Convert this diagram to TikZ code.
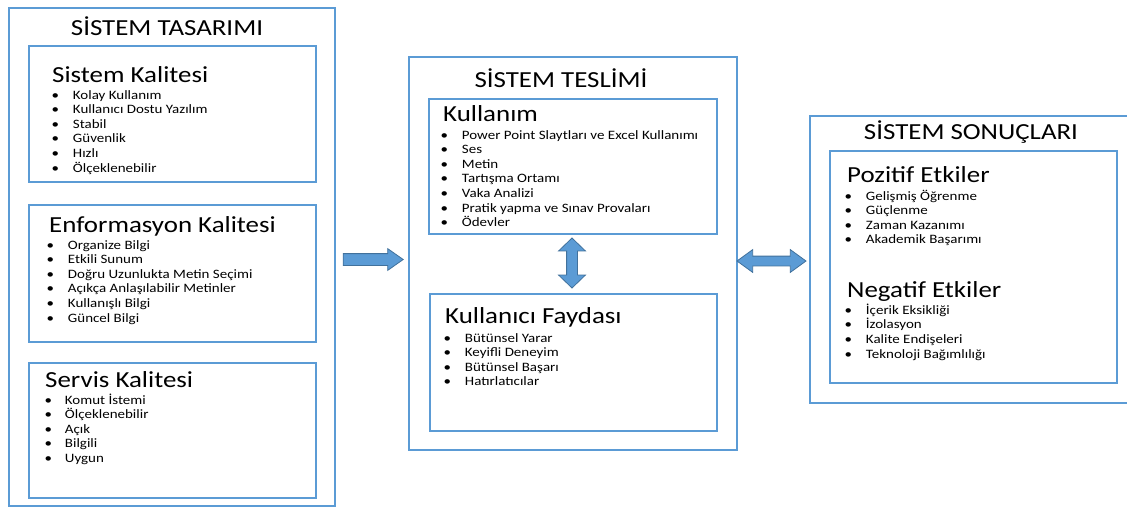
\documentclass[tikz,border=0pt]{standalone}
\usepackage{fontspec}
\setmainfont{Carlito}[FakeStretch=1.17]
\usepackage{xcolor}
\usetikzlibrary{shapes.arrows}
\definecolor{boxblue}{HTML}{5B9BD5}
\definecolor{arrowline}{HTML}{41719C}

\begin{document}
\begin{tikzpicture}[
  x=1pt, y=-1pt,
  outerbox/.style={rectangle, draw=boxblue, line width=1.6pt, anchor=north west, inner sep=0pt},
  innerbox/.style={rectangle, draw=boxblue, line width=1.6pt, anchor=north west, inner sep=0pt},
  titletext/.style={anchor=base, inner sep=0pt, font=\fontsize{23}{27}\selectfont},
  headtext/.style={anchor=base west, inner sep=0pt, font=\fontsize{23}{27}\selectfont},
  itemlist/.style={anchor=base west, inner sep=0pt, font=\fontsize{12.8}{14.6}\selectfont},
  blockarrow/.style={fill=boxblue, draw=arrowline, line width=0.8pt, inner xsep=0pt},
]
  \clip (0,0) rectangle (1127,507);

  % outer boxes
  \node[outerbox, minimum width=326pt, minimum height=498pt] (tasarim) at (8,7) {};
  \node[outerbox, minimum width=328pt, minimum height=393pt] (teslim) at (408,56) {};
  \node[outerbox, minimum width=330pt, minimum height=287pt] (sonuc) at (809,115) {};

  % inner boxes
  \node[innerbox, minimum width=287pt, minimum height=136pt] (sk) at (28,45) {};
  \node[innerbox, minimum width=287pt, minimum height=137pt] (ek) at (28,204) {};
  \node[innerbox, minimum width=287pt, minimum height=135pt] (sv) at (28,362) {};
  \node[innerbox, minimum width=288pt, minimum height=135pt] (kul) at (428,98) {};
  \node[innerbox, minimum width=287pt, minimum height=137pt] (kf) at (429,293) {};
  \node[innerbox, minimum width=287pt, minimum height=232pt] (etk) at (829,150) {};

  % titles
  \node[titletext] (t1) at (167,35) {SİSTEM TASARIMI};
  \node[titletext] (t2) at (561,87) {SİSTEM TESLİMİ};
  \node[titletext] (t3) at (971,139) {SİSTEM SONUÇLARI};

  % headings
  \node[headtext] (skh) at (52,82) {Sistem Kalitesi};
  \node[headtext] (ekh) at (49,232) {Enformasyon Kalitesi};
  \node[headtext] (svh) at (45,387) {Servis Kalitesi};
  \node[headtext] (kulh) at (443,121) {Kullanım};
  \node[headtext] (kfh) at (445,323) {Kullanıcı Faydası};
  \node[headtext] (peh) at (847,182) {Pozitif Etkiler};
  \node[headtext] (neh) at (847,297) {Negatif Etkiler};

  % item lists
  \node[itemlist] (skl) at (51.3,99) {\begin{tabular}[t]{@{}l@{\hspace{14pt}}l@{}}
    \textbullet & Kolay Kullanım\\
    \textbullet & Kullanıcı Dostu Yazılım\\
    \textbullet & Stabil\\
    \textbullet & Güvenlik\\
    \textbullet & Hızlı\\
    \textbullet & Ölçeklenebilir
  \end{tabular}};
  \node[itemlist] (ekl) at (46.3,249) {\begin{tabular}[t]{@{}l@{\hspace{14pt}}l@{}}
    \textbullet & Organize Bilgi\\
    \textbullet & Etkili Sunum\\
    \textbullet & Doğru Uzunlukta Metin Seçimi\\
    \textbullet & Açıkça Anlaşılabilir Metinler\\
    \textbullet & Kullanışlı Bilgi\\
    \textbullet & Güncel Bilgi
  \end{tabular}};
  \node[itemlist] (svl) at (44.3,404) {\begin{tabular}[t]{@{}l@{\hspace{13pt}}l@{}}
    \textbullet & Komut İstemi\\
    \textbullet & Ölçeklenebilir\\
    \textbullet & Açık\\
    \textbullet & Bilgili\\
    \textbullet & Uygun
  \end{tabular}};
  \node[itemlist] (kull) at (440.3,139) {\begin{tabular}[t]{@{}l@{\hspace{14pt}}l@{}}
    \textbullet & Power Point Slaytları ve Excel Kullanımı\\
    \textbullet & Ses\\
    \textbullet & Metin\\
    \textbullet & Tartışma Ortamı\\
    \textbullet & Vaka Analizi\\
    \textbullet & Pratik yapma ve Sınav Provaları\\
    \textbullet & Ödevler
  \end{tabular}};
  \node[itemlist] (kfl) at (443.3,342) {\begin{tabular}[t]{@{}l@{\hspace{14pt}}l@{}}
    \textbullet & Bütünsel Yarar\\
    \textbullet & Keyifli Deneyim\\
    \textbullet & Bütünsel Başarı\\
    \textbullet & Hatırlatıcılar
  \end{tabular}};
  \node[itemlist] (pel) at (844.3,200) {\begin{tabular}[t]{@{}l@{\hspace{14pt}}l@{}}
    \textbullet & Gelişmiş Öğrenme\\
    \textbullet & Güçlenme\\
    \textbullet & Zaman Kazanımı\\
    \textbullet & Akademik Başarımı
  \end{tabular}};
  \node[itemlist] (nel) at (844.3,314) {\begin{tabular}[t]{@{}l@{\hspace{14pt}}l@{}}
    \textbullet & İçerik Eksikliği\\
    \textbullet & İzolasyon\\
    \textbullet & Kalite Endişeleri\\
    \textbullet & Teknoloji Bağımlılığı
  \end{tabular}};

  % block arrows
  \node[blockarrow, single arrow, minimum height=60pt, inner ysep=5.5pt,
    single arrow head extend=5pt, single arrow tip angle=70] (a1) at (369,259.5) {};
  \node[blockarrow, double arrow, rotate=90, minimum height=50pt, inner ysep=5pt,
    double arrow head extend=8pt, double arrow tip angle=92] (a2) at (572,263) {};
  \node[blockarrow, double arrow, minimum height=69pt, inner ysep=4.5pt,
    double arrow head extend=6.5pt, double arrow tip angle=72] (a3) at (771.5,261) {};
\end{tikzpicture}
\end{document}
